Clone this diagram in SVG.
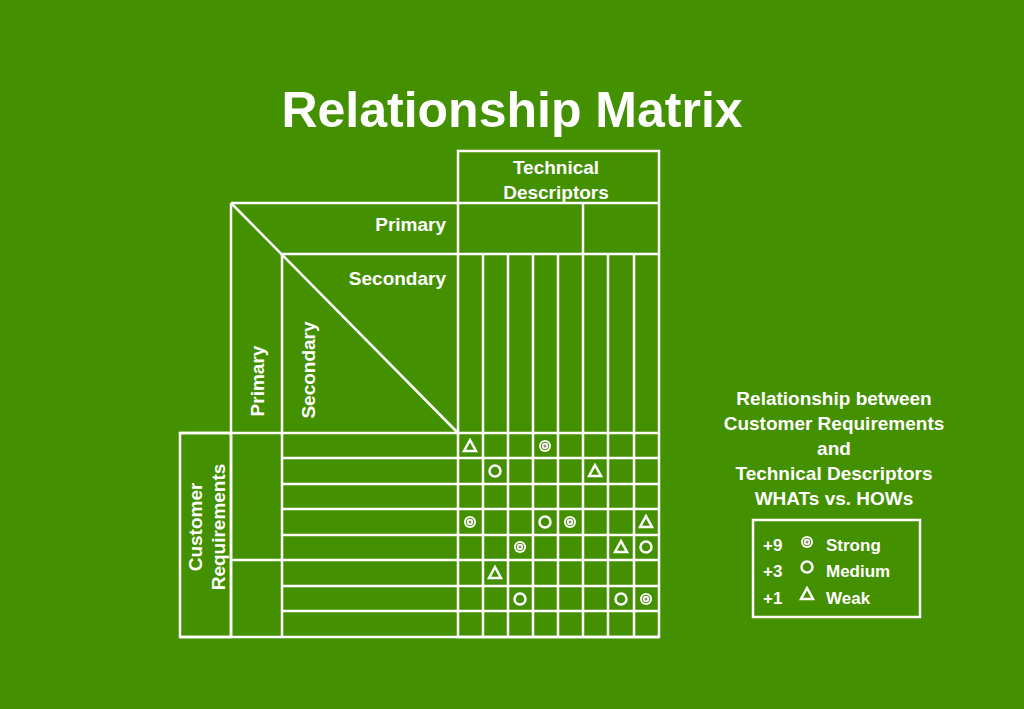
<svg xmlns="http://www.w3.org/2000/svg" width="1024" height="709" viewBox="0 0 1024 709">
<style>
.l{stroke:#fff;stroke-width:2.5;fill:none}
.t{fill:#fff;font-family:"Liberation Sans",Arial,sans-serif;font-weight:bold}
.s{stroke:#fff;stroke-width:2.5;fill:none}
</style>
<defs>
<g id="tri"><polygon points="0,-6 6,5 -6,5" class="s"/></g>
<g id="cir"><circle r="5.5" class="s"/></g>
<g id="str"><circle r="6" fill="#fff"/><circle r="3.8" fill="none" stroke="#4a8f00" stroke-width="1"/><circle r="1.5" fill="#8c8c8c"/></g>
</defs>
<rect width="1024" height="709" fill="#439000"/>
<text class="t" x="512" y="127" font-size="50" text-anchor="middle">Relationship Matrix</text>
<g id="connectors">
<rect class="l" x="458" y="151" width="201" height="486"/>
<line class="l" x1="231" y1="203" x2="659" y2="203"/>
<line class="l" x1="282" y1="254" x2="659" y2="254"/>
<line class="l" x1="583" y1="203" x2="583" y2="254"/>
<line class="l" x1="231" y1="203" x2="458" y2="433"/>
<line class="l" x1="231" y1="203" x2="231" y2="637"/>
<line class="l" x1="282" y1="254" x2="282" y2="637"/>
<rect class="l" x="180" y="433" width="51" height="204"/>
<line class="l" x1="180" y1="433" x2="659" y2="433"/>
<line class="l" x1="180" y1="637" x2="659" y2="637"/>
<line class="l" x1="231" y1="560" x2="282" y2="560"/>
<g class="l">
<line x1="483" y1="254" x2="483" y2="637"/><line x1="508" y1="254" x2="508" y2="637"/><line x1="533" y1="254" x2="533" y2="637"/><line x1="558" y1="254" x2="558" y2="637"/><line x1="583" y1="254" x2="583" y2="637"/><line x1="608" y1="254" x2="608" y2="637"/><line x1="634" y1="254" x2="634" y2="637"/>
<line x1="282" y1="458" x2="659" y2="458"/><line x1="282" y1="484" x2="659" y2="484"/><line x1="282" y1="509" x2="659" y2="509"/><line x1="282" y1="535" x2="659" y2="535"/><line x1="282" y1="560" x2="659" y2="560"/><line x1="282" y1="586" x2="659" y2="586"/><line x1="282" y1="611" x2="659" y2="611"/>
</g>
</g>
<g id="labels">
<text class="t" x="556" y="174" font-size="19" text-anchor="middle">Technical</text>
<text class="t" x="556" y="199" font-size="19" text-anchor="middle">Descriptors</text>
<text class="t" x="446" y="231" font-size="19" text-anchor="end">Primary</text>
<text class="t" x="446" y="285" font-size="19" text-anchor="end">Secondary</text>
<text class="t" font-size="19" text-anchor="middle" transform="translate(264,381) rotate(-90)">Primary</text>
<text class="t" font-size="19" text-anchor="middle" transform="translate(315,370) rotate(-90)">Secondary</text>
<text class="t" font-size="19" text-anchor="middle" transform="translate(202,527) rotate(-90)">Customer</text>
<text class="t" font-size="19" text-anchor="middle" transform="translate(225,527) rotate(-90)">Requirements</text>
</g>
<g id="symbols">
<use href="#tri" x="470" y="446"/><use href="#str" x="545" y="446"/>
<use href="#cir" x="495" y="471"/><use href="#tri" x="595" y="471"/>
<use href="#str" x="470" y="522"/><use href="#cir" x="545" y="522"/><use href="#str" x="570" y="522"/><use href="#tri" x="646" y="522"/>
<use href="#str" x="520" y="547"/><use href="#tri" x="621" y="547"/><use href="#cir" x="646" y="547"/>
<use href="#tri" x="495" y="573"/>
<use href="#cir" x="520" y="599"/><use href="#cir" x="621" y="599"/><use href="#str" x="646" y="599"/>
</g>
<g id="description">
<text class="t" x="834" y="405" font-size="19" text-anchor="middle">Relationship between</text>
<text class="t" x="834" y="430" font-size="19" text-anchor="middle">Customer Requirements</text>
<text class="t" x="834" y="455" font-size="19" text-anchor="middle">and</text>
<text class="t" x="834" y="480" font-size="19" text-anchor="middle">Technical Descriptors</text>
<text class="t" x="834" y="505" font-size="19" text-anchor="middle">WHATs vs. HOWs</text>
</g>
<g id="legend">
<rect class="l" x="753" y="520" width="167" height="97"/>
<text class="t" x="763" y="551" font-size="17">+9</text>
<text class="t" x="763" y="577" font-size="17">+3</text>
<text class="t" x="763" y="604" font-size="17">+1</text>
<use href="#str" x="807" y="542"/><use href="#cir" x="807" y="567"/><use href="#tri" x="807" y="594"/>
<text class="t" x="826" y="551" font-size="17">Strong</text>
<text class="t" x="826" y="577" font-size="17">Medium</text>
<text class="t" x="826" y="604" font-size="17">Weak</text>
</g>
</svg>
